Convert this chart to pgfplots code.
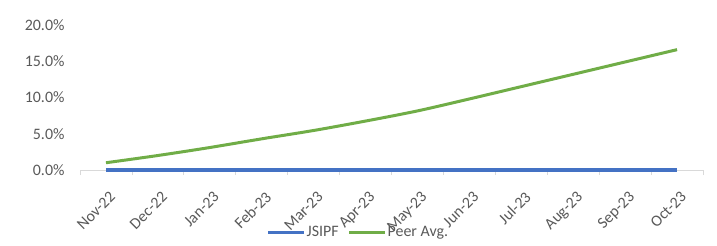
\documentclass[border=0pt]{standalone}
\usepackage{pgfplots}
\pgfplotsset{compat=1.18}
\usepackage{fontspec}
\setmainfont{Carlito}
\definecolor{cblue}{HTML}{4472C4}
\definecolor{cgreen}{HTML}{70AD47}
\definecolor{ctext}{HTML}{595959}
\definecolor{caxis}{HTML}{D9D9D9}
\begin{document}
\begin{tikzpicture}
\useasboundingbox (0,0) rectangle (717bp,246bp);
\begin{axis}[
  at={(80bp,76bp)}, anchor=south west,
  scale only axis, width=623bp, height=145bp,
  xmin=-0.5, xmax=11.5, ymin=0, ymax=20,
  axis x line*=bottom, axis y line*=left,
  x axis line style={caxis, line width=0.8bp, -},
  y axis line style={draw=none},
  xtick={0,...,11},
  xticklabels={Nov-22,Dec-22,Jan-23,Feb-23,Mar-23,Apr-23,May-23,Jun-23,Jul-23,Aug-23,Sep-23,Oct-23},
  minor xtick={-0.5,0.5,...,11.5},
  major tick length=0pt,
  minor tick length=5bp,
  tick align=outside,
  minor tick style={caxis, line width=0.8bp},
  ytick={0,5,10,15,20},
  ytick style={draw=none},
  yticklabel={\pgfmathprintnumber[fixed,fixed zerofill,precision=1]{\tick}\%},
  /pgf/number format/assume math mode=true,
  tick label style={font=\fontsize{16}{18}\selectfont, text=ctext},
  yticklabel style={xshift=-12bp},
  xticklabel style={rotate=45, anchor=north east, xshift=-9bp, yshift=-13bp},
  legend style={at={(0.446,-0.428)}, anchor=center, draw=none, fill=none,
    legend columns=2, font=\fontsize{16}{18}\selectfont, text=ctext,
    /tikz/every even column/.append style={column sep=8bp},
    nodes={inner sep=1bp},
    inner sep=0pt},
  legend image code/.code={\draw[#1, line width=3bp] (0bp,0bp) -- (36bp,0bp);},
  clip=false,
]
\addplot[cblue, line width=3bp] coordinates {
(0,0) (1,0) (2,0) (3,0) (4,0) (5,0) (6,0) (7,0) (8,0) (9,0) (10,0) (11,0)};
\addlegendentry{JSIPF}
\addplot[cgreen, line width=3bp, smooth] coordinates {
(0,1.0) (1,2.0) (2,3.1) (3,4.3) (4,5.45) (5,6.75) (6,8.15) (7,9.8) (8,11.5) (9,13.2) (10,14.9) (11,16.6)};
\addlegendentry{Peer Avg.}
\end{axis}
\end{tikzpicture}
\end{document}
